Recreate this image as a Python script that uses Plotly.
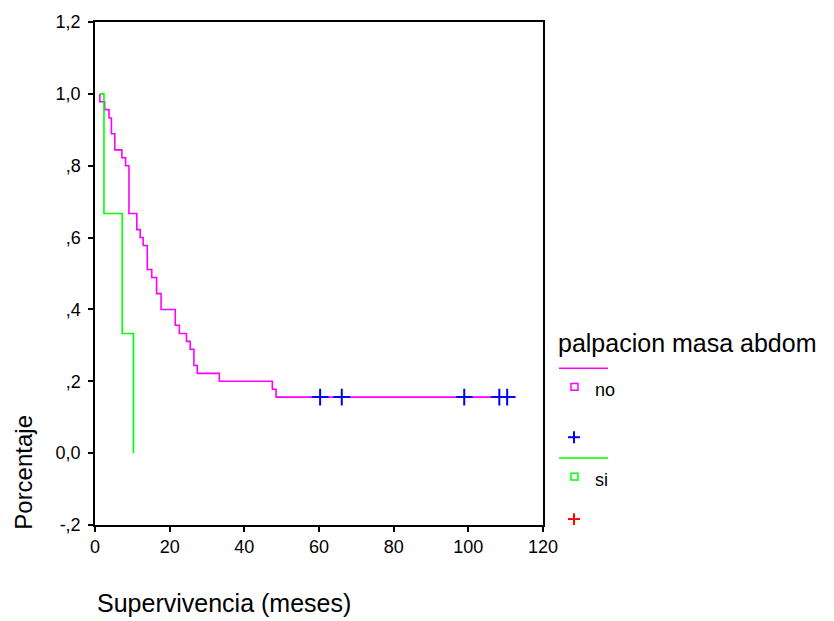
import plotly.graph_objects as go

# Kaplan-Meier survival by "palpacion masa abdom"
# group "no": event times (months) and survival after each event
no_times = [1.3, 1.3, 2.6, 3.75, 4.4, 5.3, 7.2, 8.2, 9.1, 11.2, 12.1, 12.9, 14.0,
            15.2, 16.5, 17.7, 21.5, 22.6, 24.5, 25.5, 26.5, 27.4, 33.3, 47.5, 48.5, 110.8]
no_surv = [1.0, 0.978, 0.956, 0.933, 0.889, 0.844, 0.822, 0.8, 0.667, 0.622, 0.6, 0.578, 0.511,
           0.489, 0.444, 0.4, 0.356, 0.333, 0.311, 0.289, 0.244, 0.222, 0.2, 0.178, 0.156, 0.156]
# censored observations in group "no"
no_cens_times = [60.3, 66.1, 98.9, 108.3, 110.4]
no_cens_surv = [0.156, 0.156, 0.156, 0.156, 0.156]

# group "si"
si_times = [1.3, 2.4, 7.3, 10.3]
si_surv = [1.0, 0.667, 0.333, 0.0]

y_ticks = [-0.2, 0.0, 0.2, 0.4, 0.6, 0.8, 1.0, 1.2]
y_labels = ["-,2", "0,0", ",2", ",4", ",6", ",8", "1,0", "1,2"]
x_ticks = [0, 20, 40, 60, 80, 100, 120]

MAGENTA = "#FF00FF"
GREEN = "#00FF00"
BLUE = "#0000FF"
RED = "#FF0000"
FONT = "Liberation Sans, Arial, sans-serif"

W, H = 834, 621
L, R, T, B = 95, 543, 15, 525


def px(x):
    return (x - L) / (R - L)


def py(y):
    return (B - y) / (B - T)


fig = go.Figure()
fig.add_trace(go.Scatter(x=no_times, y=no_surv, mode="lines", line_shape="hv",
                         line=dict(color=MAGENTA, width=1.6), showlegend=False,
                         hoverinfo="skip"))
fig.add_trace(go.Scatter(x=no_cens_times, y=no_cens_surv, mode="markers",
                         marker=dict(symbol="cross-thin", size=12,
                                     line=dict(color=BLUE, width=2)),
                         showlegend=False, hoverinfo="skip"))
fig.add_trace(go.Scatter(x=si_times, y=si_surv, mode="lines", line_shape="hv",
                         line=dict(color=GREEN, width=1.6), showlegend=False,
                         hoverinfo="skip"))

axis_common = dict(showgrid=False, zeroline=False, showline=True, linecolor="black",
                   linewidth=1.5, mirror=True, ticks="outside", ticklen=5,
                   tickwidth=1.5, tickcolor="black",
                   tickfont=dict(family=FONT, size=18, color="black"))
fig.update_xaxes(range=[0, 120], tickvals=x_ticks, ticktext=[str(v) for v in x_ticks],
                 **axis_common)
fig.update_yaxes(range=[-0.2, 1.2], tickvals=y_ticks, ticktext=y_labels,
                 ticklabelstandoff=4, **axis_common)

shapes = []
annotations = []

# axis titles
annotations.append(dict(text="Supervivencia (meses)", xref="paper", yref="paper",
                        x=px(95), y=py(604), xanchor="left", yanchor="middle",
                        showarrow=False, font=dict(family=FONT, size=25, color="black")))
annotations.append(dict(text="Porcentaje", xref="paper", yref="paper",
                        x=px(24), y=py(472), xanchor="center", yanchor="middle",
                        textangle=-90, showarrow=False,
                        font=dict(family=FONT, size=24, color="black")))

# legend block
annotations.append(dict(text="palpacion masa abdom", xref="paper", yref="paper",
                        x=px(556), y=py(340), xanchor="left", yanchor="middle",
                        showarrow=False, font=dict(family=FONT, size=25, color="black")))


def legend_group(y_line, y_sq, y_cross, line_color, cross_color, label):
    shapes.append(dict(type="line", xref="paper", yref="paper",
                       x0=px(559), x1=px(608), y0=py(y_line), y1=py(y_line),
                       line=dict(color=line_color, width=1.6)))
    shapes.append(dict(type="rect", xref="paper", yref="paper",
                       x0=px(571), x1=px(578), y0=py(y_sq - 3.5), y1=py(y_sq + 3.5),
                       line=dict(color=line_color, width=1.5)))
    annotations.append(dict(text=label, xref="paper", yref="paper",
                            x=px(593), y=py(y_sq + 3), xanchor="left", yanchor="middle",
                            showarrow=False, font=dict(family=FONT, size=18, color="black")))
    shapes.append(dict(type="line", xref="paper", yref="paper",
                       x0=px(568), x1=px(580), y0=py(y_cross), y1=py(y_cross),
                       line=dict(color=cross_color, width=2)))
    shapes.append(dict(type="line", xref="paper", yref="paper",
                       x0=px(574), x1=px(574), y0=py(y_cross - 6), y1=py(y_cross + 6),
                       line=dict(color=cross_color, width=2)))


legend_group(366, 385, 436, MAGENTA, BLUE, "no")
legend_group(457, 476, 519, GREEN, RED, "si")

fig.update_layout(width=W, height=H, plot_bgcolor="white", paper_bgcolor="white",
                  margin=dict(l=L, r=W - R, t=T, b=H - B, pad=0),
                  shapes=shapes, annotations=annotations, showlegend=False)

fig.write_html("out.html")
